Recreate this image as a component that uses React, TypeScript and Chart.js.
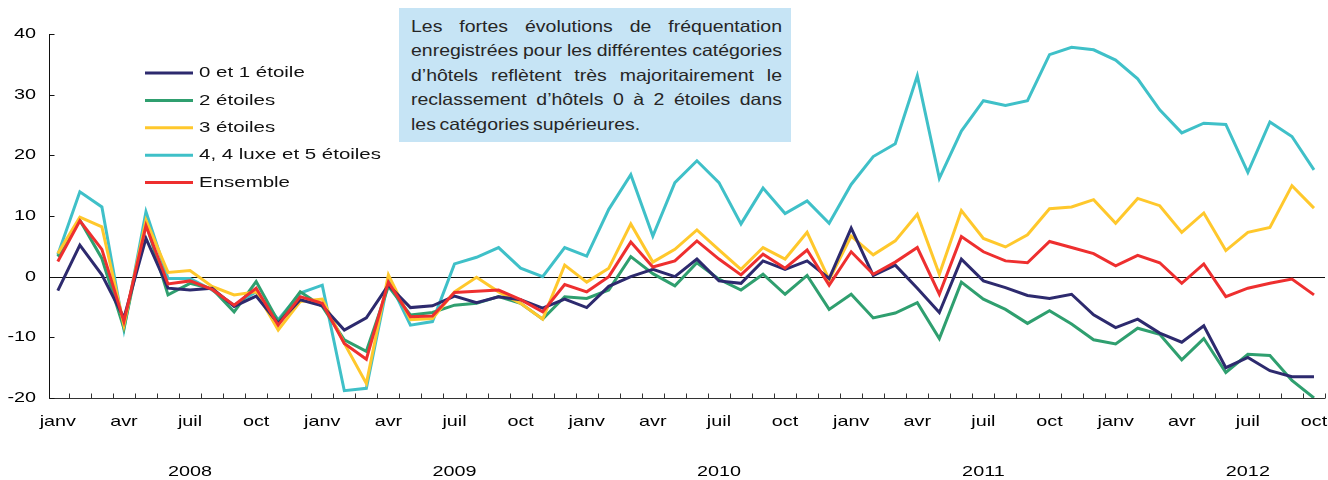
import { useEffect, useRef } from "react";
import { Chart, registerables } from "chart.js";

Chart.register(...registerables);

// ---- data ----
const years = [2008, 2009, 2010, 2011, 2012];
const monthNames = ["janv", "févr", "mars", "avr", "mai", "juin", "juil", "août", "sept", "oct", "nov", "déc"];
const tickMonthLabels = ["janv", "avr", "juil", "oct"];
const monthCount = 58; // janv 2008 -> oct 2012
const categories = Array.from({ length: monthCount }, (_, i) => `${monthNames[i % 12]} ${years[Math.floor(i / 12)]}`);
const yTicks = [-20, -10, 0, 10, 20, 30, 40];

const etoiles01 = [
  -2.3, 5.2, 0.3, -6.8, 6.3, -1.9, -2.2, -1.9, -4.9, -3.2, -7.7, -3.8,
  -4.8, -8.8, -6.8, -1.4, -5.1, -4.8, -3.2, -4.3, -3.3, -3.8, -5.2, -3.7,
  -5.1, -1.6, 0.0, 1.2, 0.0, 2.9, -0.7, -1.1, 2.6, 1.2, 2.6, -0.3,
  8.0, 0.2, 1.9, -1.9, -5.9, 2.9, -0.7, -1.8, -3.1, -3.6, -2.9, -6.3,
  -8.4, -7.0, -9.3, -10.8, -8.1, -15.0, -13.3, -15.5, -16.5, -16.5,
];
const etoiles2 = [
  3.3, 9.3, 3.0, -8.5, 8.8, -3.0, -1.1, -2.0, -5.8, -0.8, -7.4, -2.5,
  -4.9, -10.4, -12.3, -1.6, -6.3, -5.9, -4.7, -4.4, -3.3, -4.4, -7.0, -3.3,
  -3.6, -2.2, 3.3, 0.5, -1.5, 2.3, -0.4, -2.2, 0.4, -2.9, 0.2, -5.4,
  -2.9, -6.8, -6.0, -4.3, -10.2, -0.9, -3.7, -5.4, -7.7, -5.6, -7.8, -10.4,
  -11.1, -8.5, -9.5, -13.7, -10.2, -15.8, -12.8, -13.0, -17.1, -20.0,
];
const etoiles3 = [
  3.8, 9.8, 8.2, -8.0, 9.3, 0.7, 1.0, -1.6, -3.0, -2.5, -8.8, -4.1,
  -3.7, -11.0, -17.6, 0.3, -7.1, -6.9, -2.5, -0.1, -2.5, -4.4, -7.0, 1.9,
  -0.9, 1.4, 8.7, 2.4, 4.5, 7.7, 4.4, 1.2, 4.8, 2.9, 7.3, -0.5,
  6.7, 3.6, 5.9, 10.3, 0.4, 10.9, 6.3, 4.9, 6.9, 11.2, 11.5, 12.7,
  8.8, 12.9, 11.7, 7.3, 10.5, 4.3, 7.3, 8.1, 15.0, 11.3,
];
const etoiles45 = [
  3.6, 14.0, 11.5, -8.7, 10.7, -0.3, -0.3, -2.2, -4.7, -2.5, -7.1, -2.7,
  -1.4, -18.8, -18.4, -0.5, -8.0, -7.4, 2.1, 3.2, 4.8, 1.4, 0.0, 4.8,
  3.4, 11.1, 16.8, 6.7, 15.5, 19.1, 15.5, 8.7, 14.6, 10.4, 12.5, 8.8,
  15.2, 19.8, 21.9, 33.1, 16.2, 24.0, 29.0, 28.2, 29.0, 36.6, 37.8, 37.4,
  35.7, 32.6, 27.5, 23.7, 25.3, 25.1, 17.2, 25.5, 23.1, 17.6,
];
const ensemble = [
  2.5, 9.2, 4.5, -7.4, 8.4, -1.2, -0.7, -2.1, -4.7, -1.9, -8.0, -3.3,
  -4.4, -11.0, -13.6, -0.9, -6.6, -6.5, -2.6, -2.4, -2.2, -3.8, -5.8, -1.3,
  -2.5, 0.0, 5.7, 1.6, 2.6, 5.9, 2.9, 0.3, 3.7, 1.4, 4.4, -1.4,
  4.1, 0.4, 2.4, 4.8, -2.9, 6.6, 4.1, 2.6, 2.3, 5.8, 4.8, 3.8,
  1.8, 3.5, 2.3, -1.1, 2.1, -3.3, -1.9, -1.1, -0.4, -3.0,
];

const seriesLabels = ["0 et 1 étoile", "2 étoiles", "3 étoiles", "4, 4 luxe et 5 étoiles", "Ensemble"];
const seriesValues = [etoiles01, etoiles2, etoiles3, etoiles45, ensemble];
const seriesColors = ["#2d2a6e", "#2f9f6f", "#ffc82c", "#3fc0c8", "#ee2f2f"];
const seriesOrder = [2, 4, 3, 5, 1];

const noteLines = [
  "Les fortes évolutions de fréquentation",
  "enregistrées pour les différentes catégories",
  "d’hôtels reflètent très majoritairement le",
  "reclassement d’hôtels 0 à 2 étoiles dans",
  "les catégories supérieures.",
];

// ---- styling ----
const FONT_FAMILY = '"Liberation Sans", Arial, Helvetica, sans-serif';
const TEXT_STRETCH = 1.32;

function drawStretched(ctx: CanvasRenderingContext2D, text: string, x: number, y: number, align: CanvasTextAlign) {
  ctx.save();
  ctx.translate(x, y);
  ctx.scale(TEXT_STRETCH, 1);
  ctx.textAlign = align;
  ctx.textBaseline = "middle";
  ctx.fillText(text, 0, 0);
  ctx.restore();
}

const axesPlugin = {
  id: "customAxes",
  beforeDatasetsDraw(chart: any) {
    const { ctx, chartArea, scales } = chart;
    const xs = scales.x;
    const ys = scales.y;
    ctx.save();
    ctx.strokeStyle = "#111";
    ctx.lineWidth = 1;
    const y0 = Math.round(ys.getPixelForValue(0)) + 0.5;
    ctx.beginPath();
    ctx.moveTo(chartArea.left, y0);
    ctx.lineTo(chartArea.right, y0);
    ctx.stroke();
    const xl = Math.round(chartArea.left) + 0.5;
    ctx.beginPath();
    ctx.moveTo(xl, chartArea.top);
    ctx.lineTo(xl, chartArea.bottom);
    ctx.stroke();
    const yb = Math.round(chartArea.bottom) + 0.5;
    ctx.strokeStyle = "#333";
    ctx.beginPath();
    ctx.moveTo(chartArea.left, yb);
    ctx.lineTo(chartArea.right, yb);
    ctx.stroke();
    ctx.strokeStyle = "#111";
    for (const v of yTicks) {
      const py = Math.round(ys.getPixelForValue(v)) + 0.5;
      ctx.beginPath();
      ctx.moveTo(xl, py);
      ctx.lineTo(xl + 5, py);
      ctx.stroke();
    }
    ctx.strokeStyle = "#333";
    for (let i = 0; i < categories.length; i++) {
      const px = Math.round(xs.getPixelForValue(i + 0.5)) + 0.5;
      ctx.beginPath();
      ctx.moveTo(px, yb);
      ctx.lineTo(px, yb - 5);
      ctx.stroke();
    }
    ctx.restore();
  },
  afterDraw(chart: any) {
    const { ctx, chartArea, scales } = chart;
    const xs = scales.x;
    const ys = scales.y;
    ctx.save();
    ctx.fillStyle = "#000";
    ctx.font = `15px ${FONT_FAMILY}`;
    for (const v of yTicks) {
      drawStretched(ctx, String(v), chartArea.left - 13, ys.getPixelForValue(v), "right");
    }
    for (let i = 0; i < categories.length; i += 3) {
      drawStretched(ctx, tickMonthLabels[(i / 3) % 4], xs.getPixelForValue(i), chartArea.bottom + 24, "center");
    }
    years.forEach((yr, k) => {
      drawStretched(ctx, String(yr), xs.getPixelForValue(k * 12 + 6), chartArea.bottom + 74, "center");
    });
    // legend
    ctx.font = `15.5px ${FONT_FAMILY}`;
    const lx = 145;
    const lLen = 48;
    const ly0 = 73;
    const gap = 27.4;
    chart.data.datasets.forEach((ds: any, k: number) => {
      const y = ly0 + k * gap;
      ctx.strokeStyle = ds.borderColor;
      ctx.lineWidth = 3;
      ctx.beginPath();
      ctx.moveTo(lx, y);
      ctx.lineTo(lx + lLen, y);
      ctx.stroke();
      ctx.fillStyle = "#111";
      drawStretched(ctx, ds.label, lx + lLen + 6, y, "left");
    });
    ctx.restore();
  },
};

export default function App() {
  const canvasRef = useRef<HTMLCanvasElement | null>(null);

  useEffect(() => {
    document.body.style.margin = "0";
    const canvas = canvasRef.current;
    if (!canvas) return;
    const chart = new Chart(canvas, {
      type: "line",
      data: {
        labels: categories,
        datasets: seriesValues.map((vals, k) => ({
          label: seriesLabels[k],
          data: vals.map((v, i) => ({ x: i, y: v })),
          borderColor: seriesColors[k],
          backgroundColor: seriesColors[k],
          borderWidth: 3,
          pointRadius: 0,
          pointHoverRadius: 0,
          tension: 0,
          fill: false,
          borderJoinStyle: "miter" as const,
          borderCapStyle: "butt" as const,
          order: seriesOrder[k],
        })),
      },
      options: {
        animation: false,
        responsive: false,
        devicePixelRatio: 1,
        events: [],
        layout: { padding: { left: 49, right: 3, top: 34, bottom: 82 } },
        plugins: {
          legend: { display: false },
          tooltip: { enabled: false },
          title: { display: false },
        },
        scales: {
          x: { type: "linear", display: false, min: -0.4, max: 57.5 },
          y: { type: "linear", display: false, min: -20, max: 40 },
        },
      },
      plugins: [axesPlugin],
    });
    return () => chart.destroy();
  }, []);

  const S = 1.18;
  const textWidth = 371;
  return (
    <div style={{ position: "relative", width: 1328, height: 480, background: "#fff", overflow: "hidden" }}>
      <canvas ref={canvasRef} width={1328} height={480} style={{ display: "block", width: 1328, height: 480 }} />
      <div
        style={{
          position: "absolute",
          left: 399,
          top: 8,
          width: 392,
          height: 134,
          background: "#c6e4f5",
          boxSizing: "border-box",
          paddingTop: 6,
          paddingLeft: 12,
        }}
      >
        {noteLines.map((line, k) => (
          <div
            key={k}
            style={{
              width: textWidth / S,
              height: 24.4,
              lineHeight: "24.4px",
              fontSize: 16.5,
              fontFamily: FONT_FAMILY,
              color: "#262626",
              whiteSpace: "nowrap",
              wordSpacing: "-1.5px",
              textAlign: k < noteLines.length - 1 ? "justify" : "left",
              textAlignLast: k < noteLines.length - 1 ? "justify" : "left",
              transform: `scaleX(${S})`,
              transformOrigin: "left center",
            } as any}
          >
            {line}
          </div>
        ))}
      </div>
    </div>
  );
}
